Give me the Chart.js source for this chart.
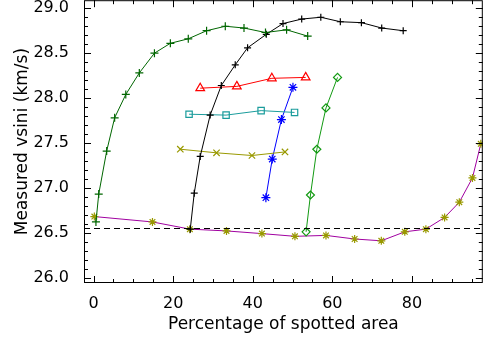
<!DOCTYPE html>
<html>
<head>
<meta charset="utf-8">
<script src="https://cdn.jsdelivr.net/npm/chart.js@4/dist/chart.umd.min.js"></script>
<style>
  html, body { margin: 0; padding: 0; background: #fff; overflow: hidden; }
  #frame { width: 489px; height: 340px; overflow: hidden; }
  #wrap { width: 489px; height: 346px; margin-top: -6px; }
</style>
</head>
<body>
<div id="frame"><div id="wrap"><canvas id="chart"></canvas></div></div>
<script>
// axis ticks
const xMajor = [0, 20, 40, 60, 80];
const xMinor = [0, 5, 10, 15, 20, 25, 30, 35, 40, 45, 50, 55, 60, 65, 70, 75, 80, 85, 90, 95];
const yMajor = [26.0, 26.5, 27.0, 27.5, 28.0, 28.5, 29.0];
const yMinor = [26.1, 26.2, 26.3, 26.4, 26.6, 26.7, 26.8, 26.9, 27.1, 27.2, 27.3, 27.4,
  27.6, 27.7, 27.8, 27.9, 28.1, 28.2, 28.3, 28.4, 28.6, 28.7, 28.8, 28.9];

// series (x = % spotted area, y = measured vsini)
const greenX = [0.6, 1.3, 3.3, 5.3, 8.1, 11.5, 15.3, 19.3, 23.8, 28.4, 33.1, 37.8, 43.2, 48.5, 53.8];
const greenY = [26.62, 26.93, 27.41, 27.78, 28.04, 28.28, 28.50, 28.61, 28.66, 28.75, 28.80, 28.78, 28.73, 28.76, 28.69];

const blackX = [24.3, 25.3, 26.8, 29.3, 32.1, 35.6, 38.7, 43.4, 47.6, 52.3, 57.1, 62.0, 67.3, 72.4, 77.8];
const blackY = [26.54, 26.94, 27.35, 27.81, 28.14, 28.37, 28.56, 28.71, 28.83, 28.88, 28.90, 28.85, 28.84, 28.78, 28.75];

const redX = [26.8, 36.0, 44.8, 53.3];
const redY = [28.11, 28.13, 28.22, 28.23];

const cyanX = [24.0, 33.3, 42.1, 50.5];
const cyanY = [27.82, 27.81, 27.86, 27.84];

const oliveX = [21.8, 30.9, 39.8, 48.1];
const oliveY = [27.43, 27.39, 27.36, 27.40];

const blueX = [43.3, 44.9, 47.2, 50.1];
const blueY = [26.89, 27.32, 27.76, 28.12];

const diamondX = [53.4, 54.5, 56.1, 58.4, 61.3];
const diamondY = [26.51, 26.92, 27.43, 27.89, 28.23];

const purpleX = [0.2, 14.8, 24.2, 33.4, 42.3, 50.6, 58.4, 65.6, 72.3, 78.2, 83.5, 88.2, 91.9, 95.2, 97.3];
const purpleY = [26.68, 26.62, 26.54, 26.52, 26.49, 26.46, 26.47, 26.43, 26.41, 26.51, 26.54, 26.67, 26.84, 27.11, 27.49];

const dashedY = 26.555;
const xRange = [-2.4, 97.8];
const yRange = [25.94, 29.09];

function pts(xs, ys) {
  return xs.map((x, i) => ({ x: x, y: ys[i] }));
}

function series(xs, ys, color, style, size, markerColor) {
  return {
    data: pts(xs, ys),
    borderColor: color,
    borderWidth: 1,
    pointStyle: style,
    pointRadius: size,
    pointBorderColor: markerColor || color,
    pointBackgroundColor: 'rgba(0,0,0,0)',
    pointBorderWidth: 1.2,
    showLine: true,
    tension: 0
  };
}

// inward tick marks on all four sides, IDL style
const boxTicks = {
  id: 'boxTicks',
  afterDraw(chart) {
    const ctx = chart.ctx;
    const a = chart.chartArea;
    const xs = chart.scales.x, ys = chart.scales.y;
    ctx.save();
    ctx.strokeStyle = '#000';
    ctx.lineWidth = 1;
    ctx.strokeRect(a.left + 0.5, a.top + 0.5, a.right - a.left - 1, a.bottom - a.top - 1);
    ctx.beginPath();
    const tickX = (v, len) => {
      const px = Math.round(xs.getPixelForValue(v)) + 0.5;
      ctx.moveTo(px, a.bottom); ctx.lineTo(px, a.bottom - len);
      ctx.moveTo(px, a.top); ctx.lineTo(px, a.top + len);
    };
    const tickY = (v, len) => {
      const py = Math.round(ys.getPixelForValue(v)) + 0.5;
      ctx.moveTo(a.left, py); ctx.lineTo(a.left + len, py);
      ctx.moveTo(a.right, py); ctx.lineTo(a.right - len, py);
    };
    xMinor.forEach(v => tickX(v, 4));
    xMajor.forEach(v => tickX(v, 7));
    yMinor.forEach(v => tickY(v, 4));
    yMajor.forEach(v => tickY(v, 7));
    ctx.stroke();
    ctx.restore();
  }
};

const dashedLine = {
  id: 'dashedLine',
  afterDatasetsDraw(chart) {
    const ctx = chart.ctx;
    const a = chart.chartArea;
    const py = Math.round(chart.scales.y.getPixelForValue(dashedY)) + 0.5;
    ctx.save();
    ctx.strokeStyle = '#000';
    ctx.lineWidth = 1;
    ctx.setLineDash([6, 4]);
    ctx.beginPath();
    ctx.moveTo(a.left, py);
    ctx.lineTo(a.right, py);
    ctx.stroke();
    ctx.restore();
  }
};

const tickFont = { family: 'DejaVu Sans', size: 16 };
const titleFont = { family: 'DejaVu Sans', size: 17 };

new Chart(document.getElementById('chart'), {
  type: 'scatter',
  data: {
    datasets: [
      series(greenX, greenY, '#006600', 'cross', 4),
      series(blackX, blackY, '#000000', 'cross', 3.5),
      series(redX, redY, '#ff0000', 'triangle', 5),
      series(cyanX, cyanY, '#1a9c9c', 'rect', 4.5),
      series(oliveX, oliveY, '#999900', 'crossRot', 4.5),
      series(blueX, blueY, '#0000ff', 'star', 4.5),
      series(diamondX, diamondY, '#129a12', 'rectRot', 4),
      series(purpleX, purpleY, '#a000a0', 'star', 4, '#999900')
    ]
  },
  options: {
    responsive: true,
    maintainAspectRatio: false,
    animation: false,
    layout: { padding: { top: 0, right: 4, left: 12, bottom: 0 } },
    plugins: { legend: { display: false }, tooltip: { enabled: false } },
    scales: {
      x: {
        type: 'linear',
        min: xRange[0], max: xRange[1],
        afterBuildTicks: s => { s.ticks = xMajor.map(v => ({ value: v })); },
        afterFit: s => { s.height = 57; s.paddingLeft = 0; s.paddingRight = 0; },
        grid: { display: false },
        border: { display: false },
        ticks: { color: '#000', font: tickFont, padding: 3, maxRotation: 0 },
        title: { display: true, text: 'Percentage of spotted area', color: '#000', font: titleFont, padding: { top: 0, bottom: 5 } }
      },
      y: {
        type: 'linear',
        min: yRange[0], max: yRange[1],
        afterBuildTicks: s => { s.ticks = yMajor.map(v => ({ value: v })); },
        afterFit: s => { s.width = 72; s.paddingTop = 0; s.paddingBottom = 0; },
        grid: { display: false },
        border: { display: false },
        ticks: { color: '#000', font: tickFont, padding: 7, callback: v => v.toFixed(1) },
        title: { display: true, text: 'Measured vsini (km/s)', color: '#000', font: titleFont, padding: { top: 0, bottom: 6 } }
      }
    }
  },
  plugins: [boxTicks, dashedLine]
});
</script>
</body>
</html>
